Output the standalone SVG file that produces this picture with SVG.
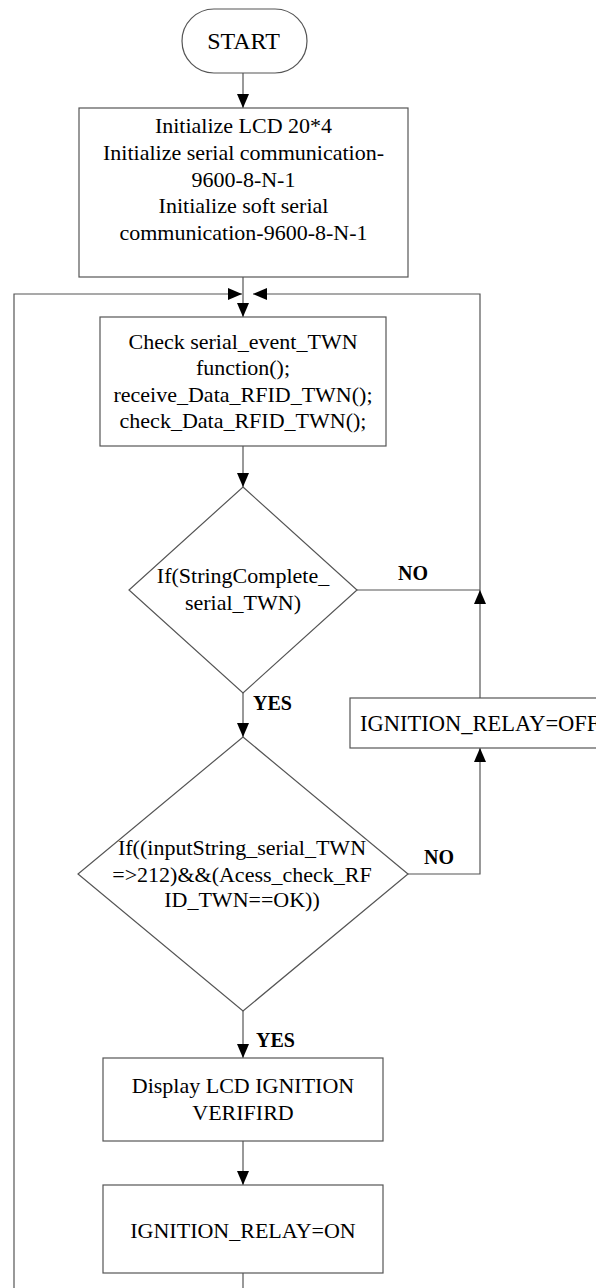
<svg xmlns="http://www.w3.org/2000/svg" width="596" height="1288" viewBox="0 0 596 1288">
<style>
.shape{fill:#fff;stroke:#555;stroke-width:1.2}
.conn{fill:none;stroke:#555;stroke-width:1.2}
.t{font-family:"Liberation Serif","Times New Roman",serif;font-size:22px;fill:#000;text-anchor:middle}
.lbl{font-family:"Liberation Serif","Times New Roman",serif;font-size:20px;font-weight:bold;fill:#000}
</style>
<defs>
<marker id="arr" markerWidth="14" markerHeight="12" refX="14" refY="6" orient="auto" markerUnits="userSpaceOnUse">
<path d="M0,0 L14,6 L0,12 z" fill="#000"/>
</marker>
</defs>
<rect width="596" height="1288" fill="#fff"/>
<g id="connectors">
<path class="conn" d="M243,73 V108" marker-end="url(#arr)"/>
<path class="conn" d="M243,277 V317" marker-end="url(#arr)"/>
<path class="conn" d="M14,1288 V294 H242" marker-end="url(#arr)"/>
<path class="conn" d="M357,590 H480"/>
<path class="conn" d="M480,698 V590" marker-end="url(#arr)"/>
<path class="conn" d="M480,590 V294 H253" marker-end="url(#arr)"/>
<path class="conn" d="M243,446 V487" marker-end="url(#arr)"/>
<path class="conn" d="M243,693 V737" marker-end="url(#arr)"/>
<path class="conn" d="M408,874 H480 V748" marker-end="url(#arr)"/>
<path class="conn" d="M243,1011 V1058" marker-end="url(#arr)"/>
<path class="conn" d="M243,1141 V1185" marker-end="url(#arr)"/>
<path class="conn" d="M243,1273 V1288"/>
<text class="lbl" x="398" y="580">NO</text>
<text class="lbl" x="253" y="710">YES</text>
<text class="lbl" x="424" y="864">NO</text>
<text class="lbl" x="256" y="1047">YES</text>
</g>
<g id="start">
<rect class="shape" x="182" y="9" width="125" height="64" rx="32" ry="32"/>
<text class="t" x="243.5" y="49" style="font-size:24px">START</text>
</g>
<g id="init">
<rect class="shape" x="79" y="108" width="329" height="169"/>
<text class="t" x="243.5" y="133">Initialize LCD 20*4</text>
<text class="t" x="243.5" y="160">Initialize serial communication-</text>
<text class="t" x="243.5" y="187">9600-8-N-1</text>
<text class="t" x="243.5" y="213">Initialize soft serial</text>
<text class="t" x="243.5" y="240">communication-9600-8-N-1</text>
</g>
<g id="check">
<rect class="shape" x="100" y="317" width="286" height="129"/>
<text class="t" x="243" y="349">Check serial_event_TWN</text>
<text class="t" x="243" y="375">function();</text>
<text class="t" x="243" y="402">receive_Data_RFID_TWN();</text>
<text class="t" x="243" y="428">check_Data_RFID_TWN();</text>
</g>
<g id="decision1">
<polygon class="shape" points="243,487 357,590 243,693 129,590"/>
<text class="t" x="243" y="583">If(StringComplete_</text>
<text class="t" x="243" y="610">serial_TWN)</text>
</g>
<g id="relay-off">
<rect class="shape" x="350" y="698" width="270" height="50"/>
<text class="t" x="360" y="731" style="text-anchor:start;font-size:22.5px">IGNITION_RELAY=OFF</text>
</g>
<g id="decision2">
<polygon class="shape" points="243,737 408,874 243,1011 78,874"/>
<text class="t" x="242" y="855">If((inputString_serial_TWN</text>
<text class="t" x="242" y="882">=&gt;212)&amp;&amp;(Acess_check_RF</text>
<text class="t" x="242" y="907">ID_TWN==OK))</text>
</g>
<g id="display">
<rect class="shape" x="103" y="1058" width="280" height="83"/>
<text class="t" x="243" y="1093">Display LCD IGNITION</text>
<text class="t" x="243" y="1120">VERIFIRD</text>
</g>
<g id="relay-on">
<rect class="shape" x="103" y="1185" width="280" height="88"/>
<text class="t" x="243" y="1238">IGNITION_RELAY=ON</text>
</g>
</svg>
